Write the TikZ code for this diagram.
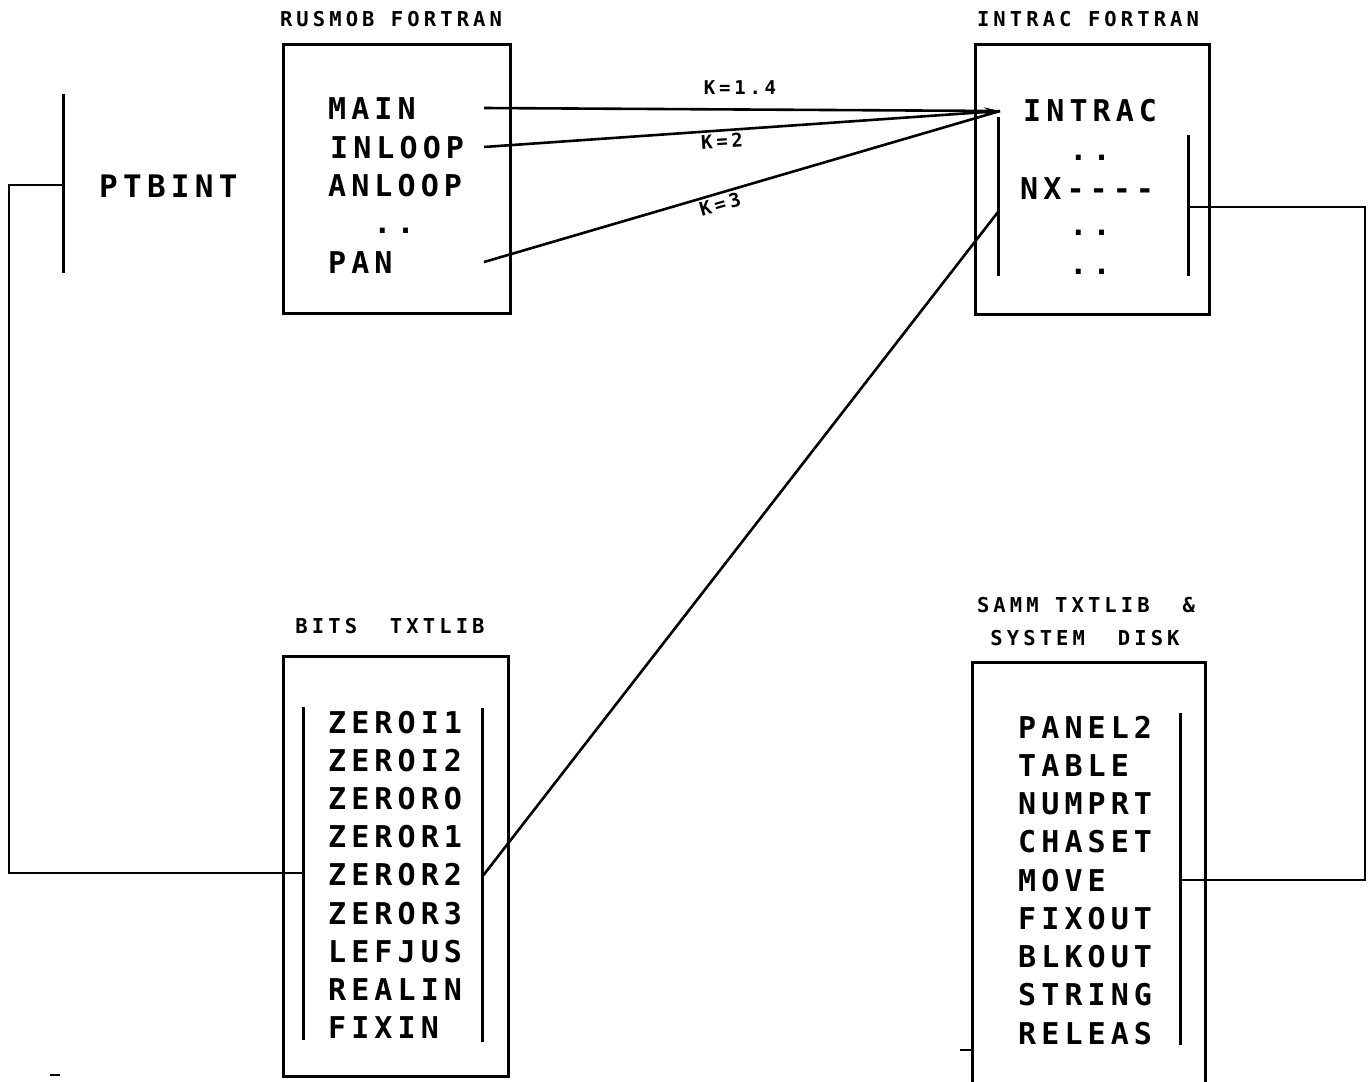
\documentclass[tikz,border=0pt]{standalone}
\usepackage{fontspec}
\setmainfont{DejaVu Sans Mono}
\newfontfamily\itemfont[LetterSpace=17]{DejaVu Sans Mono}
\newfontfamily\ttlfont[LetterSpace=20]{DejaVu Sans Mono}
\usetikzlibrary{arrows.meta}
\tikzset{
  box/.style={draw, line width=3pt, inner sep=0pt, anchor=north west},
  bar/.style={line width=3pt},
  wire/.style={line width=2.6pt},
  itm/.style={anchor=base west, inner sep=0pt, font=\fontsize{30}{30}\itemfont\bfseries},
  dots/.style={anchor=base, inner sep=0pt, font=\fontsize{30}{30}\itemfont\bfseries},
  ttl/.style={anchor=base, inner sep=0pt, font=\fontsize{20.5}{20.5}\ttlfont\bfseries},
  klab/.style={inner sep=0pt, font=\fontsize{19}{19}\ttlfont\bfseries},
}
\begin{document}
\begin{tikzpicture}[x=1pt,y=-1pt]
\useasboundingbox (0,0) rectangle (1372,1081);
% ---------- PTBINT ----------
\node[itm, font=\fontsize{31}{31}\itemfont\bfseries] (ptbint) at (99,197) {PTBINT};
\draw[bar] (63,94) -- (63,273);
\coordinate (ptb) at (63,185);
% ---------- RUSMOB box ----------
\node[ttl] (rustitle) at (391,27) {RUSMOB FORTRAN};
\node[box, minimum width=227pt, minimum height=269pt] (rus) at (282,43) {};
\node[itm] (main) at (328,119) {MAIN};
\node[itm] (inloop) at (330,158) {INLOOP};
\node[itm] (anloop) at (328,196) {ANLOOP};
\node[dots] (rdots) at (394,233) {..};
\node[itm] (pan) at (328,273) {PAN};
\coordinate (mainR) at (484,108);
\coordinate (inloopR) at (484,147);
\coordinate (panR) at (484,262);
% ---------- INTRAC box ----------
\node[ttl] (inttitle) at (1088,27) {INTRAC FORTRAN};
\node[box, minimum width=234pt, minimum height=270pt] (intrac) at (974,43) {};
\node[itm] (intracL) at (1023,121) {INTRAC};
\node[dots] (id1) at (1090,160) {..};
\node[itm] (nx) at (1020,199) {NX----};
\node[dots] (id2) at (1090,235) {..};
\node[dots] (id3) at (1090,274) {..};
\draw[bar] (998,117) -- (998,276);
\draw[bar] (1188,135) -- (1188,276);
\coordinate (tip) at (1000,111);
\coordinate (intL) at (998,212);
\coordinate (intR) at (1188,207);
% ---------- K connectors ----------
\draw[wire, -{Stealth[open, length=16pt, width=7pt]}] (mainR) -- (tip);
\draw[wire] (inloopR) -- (tip);
\draw[wire] (panR) -- (tip);
\node[klab] (k1) at (740,88) {K=1.4};
\node[klab, rotate=4] (k2) at (722,141) {K=2};
\node[klab, rotate=16] (k3) at (720,204) {K=3};
% ---------- BITS box ----------
\node[ttl] (bitstitle) at (390,633) {BITS\ \ TXTLIB};
\node[box, minimum width=225pt, minimum height=420pt] (bits) at (282,655) {};
\draw[bar] (303,707) -- (303,1040);
\draw[bar] (482,708) -- (482,1042);
\foreach \t [count=\i from 0] in {ZEROI1,ZEROI2,ZERORO,ZEROR1,ZEROR2,ZEROR3,LEFJUS,REALIN,FIXIN}
  \node[itm] (b\i) at (328,{733+38.2*\i}) {\t};
\coordinate (bitsL) at (303,873);
\coordinate (bitsR) at (482,877);
% ---------- SAMM box ----------
\node[ttl] (sammt1) at (1086,612) {SAMM TXTLIB\ \ \&};
\node[ttl] (sammt2) at (1085,645) {SYSTEM\ \ DISK};
\draw[line width=3pt] (972,1090) -- (972,662) -- (1205,662) -- (1205,1090);
\draw[bar] (1180,713) -- (1180,1045);
\foreach \t [count=\i from 0] in {PANEL2,TABLE,NUMPRT,CHASET,MOVE,FIXOUT,BLKOUT,STRING,RELEAS}
  \node[itm] (s\i) at (1018,{738+38.25*\i}) {\t};
\coordinate (sammR) at (1180,880);
\draw[line width=1.5pt] (960,1050) -- (972,1050);
\draw[line width=1.5pt] (50,1075) -- (60,1075);
% ---------- long connectors ----------
\draw[wire] (ptb) -- (9,185) -- (9,873) -- (bitsL);
\draw[wire] (bitsR) -- (intL);
\draw[wire] (intR) -- (1365,207) -- (1365,880) -- (sammR);
\end{tikzpicture}
\end{document}
